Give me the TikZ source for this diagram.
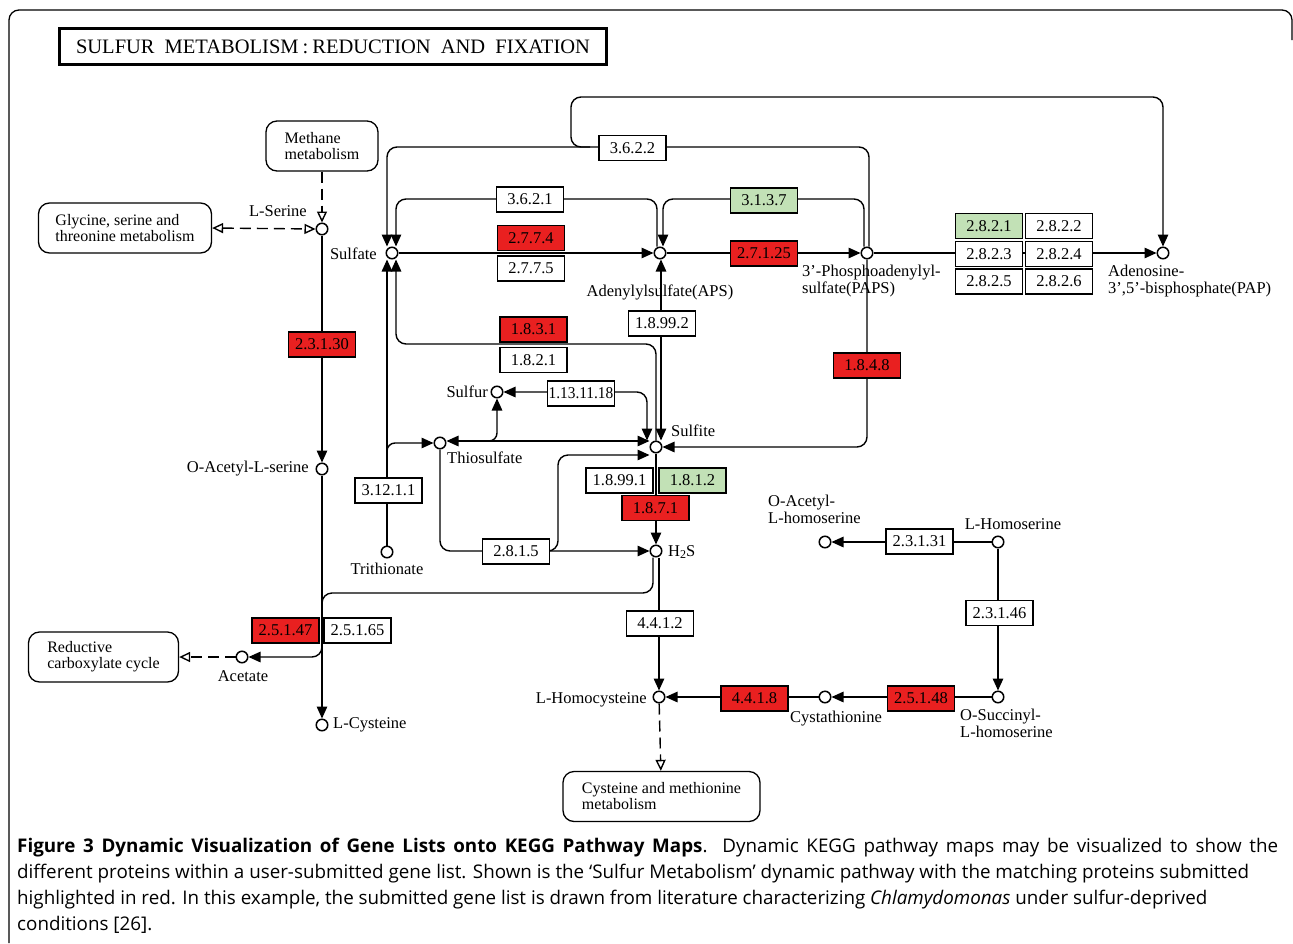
\documentclass[tikz,border=0pt]{standalone}
\usepackage{fontspec}
\setmainfont{Liberation Serif}
\newfontfamily\capfont{Open Sans}
\usetikzlibrary{arrows.meta,calc}
\pgfdeclarelayer{bg}
\pgfsetlayers{bg,main}
\definecolor{keggred}{RGB}{233,32,32}
\definecolor{kegggreen}{RGB}{194,225,182}
\begin{document}
\begin{tikzpicture}[x=1pt,y=-1pt,
  every node/.style={font=\fontsize{16.5}{17}\selectfont},
  cpd/.style={circle,draw,fill=white,line width=1.5pt,minimum size=11.5pt,inner sep=0pt},
  enz/.style={draw,fill=white,line width=1.3pt,minimum width=67pt,minimum height=25pt,inner sep=0pt},
  enzred/.style={enz,fill=keggred},
  enzgreen/.style={enz,fill=kegggreen},
  mapbox/.style={draw,rounded corners=11pt,line width=1.3pt,fill=white,align=left,font=\fontsize{16}{16}\selectfont,inner sep=0pt},
  lbl/.style={inner sep=0pt},
  conn/.style={line width=1.4pt},
  dconn/.style={line width=1.4pt,dash pattern=on 11pt off 6pt},
  opentip/.style={-{Triangle[open,length=11pt,width=10pt]}},
  opentips/.style={{Triangle[open,length=11pt,width=10pt]}-{Triangle[open,length=11pt,width=10pt]}},
  >={Triangle[length=12pt,width=10.5pt]},
]
\useasboundingbox (0,0) rectangle (1293,943);

% outer frame and title
\draw[line width=1.3pt,rounded corners=10pt] (9,943) -- (9,10) -- (1292,10) -- (1292,40);
\node[draw,line width=3pt,minimum width=547pt,minimum height=36pt,inner sep=0pt,font=\fontsize{20.5}{22}\selectfont] (title) at (333,46.5) {SULFUR\hspace{5pt} METABOLISM\hspace{4pt}:\hspace{4pt}REDUCTION\hspace{5pt} AND\hspace{5pt} FIXATION};

% compounds
\node[cpd] (serine) at (322,229) {};
\node[cpd] (sulfate) at (392,253) {};
\node[cpd] (aps) at (660,253) {};
\node[cpd] (paps) at (867,253) {};
\node[cpd] (pap) at (1163,253) {};
\node[cpd] (sulfur) at (497,392) {};
\node[cpd] (thio) at (440,443) {};
\node[cpd] (sulfite) at (656,447) {};
\node[cpd] (oas) at (322,469) {};
\node[cpd] (trith) at (387,552) {};
\node[cpd] (h2s) at (656,551) {};
\node[cpd] (acetate) at (242,657) {};
\node[cpd] (cys) at (322,725) {};
\node[cpd] (oah) at (825,542) {};
\node[cpd] (homoser) at (998,542) {};
\node[cpd] (hcys) at (659,697) {};
\node[cpd] (cysta) at (825,697) {};
\node[cpd] (osh) at (998,697) {};

% compound labels
\node[lbl,anchor=east] (lserine) at (307,211) {L-Serine};
\node[lbl,anchor=east] (lsulfate) at (377,254) {Sulfate};
\node[lbl] (laps) at (660,292) {Adenylylsulfate(APS)};
\node[lbl,anchor=north west,align=left] (lpaps) at (802,265) {3'-Phosphoadenylyl-\\sulfate(PAPS)};
\node[lbl,anchor=north west,align=left] (lpap) at (1108,265) {Adenosine-\\3',5'-bisphosphate(PAP)};
\node[lbl,anchor=east] (lsulfur) at (488,392) {Sulfur};
\node[lbl,anchor=west] (lsulfite) at (671,431) {Sulfite};
\node[lbl,anchor=west] (lthio) at (447,458) {Thiosulfate};
\node[lbl,anchor=east] (loas) at (309,469) {O-Acetyl-L-serine};
\node[lbl] (ltrith) at (387,569) {Trithionate};
\node[lbl,anchor=west] (lh2s) at (668,552) {H\raisebox{-1.5pt}{\fontsize{12}{12}\selectfont 2}S};
\node[lbl] (lacetate) at (243,676) {Acetate};
\node[lbl,anchor=west] (lcys) at (333,725) {L-Cysteine};
\node[lbl,anchor=north west,align=left] (loah) at (768,495) {O-Acetyl-\\L-homoserine};
\node[lbl] (lhomoser) at (1013,524) {L-Homoserine};
\node[lbl,anchor=east] (lhcys) at (647,700) {L-Homocysteine};
\node[lbl] (lcysta) at (836,719) {Cystathionine};
\node[lbl,anchor=north west,align=left] (losh) at (960,709) {O-Succinyl-\\L-homoserine};

% enzymes
\node[enz] (e3622) at (632.5,148) {3.6.2.2};
\node[enz] (e3621) at (530,199.5) {3.6.2.1};
\node[enzgreen] (e3137) at (764,200.5) {3.1.3.7};
\node[enzred] (e2774) at (531,238) {2.7.7.4};
\node[enz] (e2775) at (531,268.5) {2.7.7.5};
\node[enzred] (e27125) at (764,253.5) {2.7.1.25};
\node[enzgreen] (e2821) at (989,226) {2.8.2.1};
\node[enz] (e2822) at (1059,226) {2.8.2.2};
\node[enz] (e2823) at (989,254) {2.8.2.3};
\node[enz] (e2824) at (1059,254) {2.8.2.4};
\node[enz] (e2825) at (989,281.5) {2.8.2.5};
\node[enz] (e2826) at (1059,281.5) {2.8.2.6};
\node[enz] (e18992) at (662,323.5) {1.8.99.2};
\node[enzred] (e1831) at (533.5,329.5) {1.8.3.1};
\node[enz] (e1821) at (533.5,360) {1.8.2.1};
\node[enzred] (e1848) at (867,365.5) {1.8.4.8};
\node[enzred] (e231130) at (322,344.5) {2.3.1.30};
\node[enz] (e1131118) at (581,393.5) {\scalebox{0.93}[1]{1.13.11.18}};
\node[enz] (e31211) at (388.5,490.5) {3.12.1.1};
\node[enz] (e18991) at (619.5,480.5) {1.8.99.1};
\node[enzgreen] (e1812) at (692.5,480.5) {1.8.1.2};
\node[enzred] (e1871) at (655.5,508) {1.8.7.1};
\node[enz] (e2815) at (516,551.5) {2.8.1.5};
\node[enzred] (e25147) at (285.5,630.5) {2.5.1.47};
\node[enz] (e25165) at (357.5,630.5) {2.5.1.65};
\node[enz] (e4412) at (660,623.5) {4.4.1.2};
\node[enz] (e23131) at (919.5,541.5) {2.3.1.31};
\node[enz] (e23146) at (999.5,613) {2.3.1.46};
\node[enzred] (e25148) at (921,698.5) {2.5.1.48};
\node[enzred] (e4418) at (754.5,698.5) {4.4.1.8};

% pathway maps
\node[mapbox,minimum width=112pt,minimum height=50pt] (methane) at (322,146) {Methane\\metabolism};
\node[mapbox,minimum width=173pt,minimum height=50pt] (glycine) at (125,228) {Glycine, serine and\\threonine metabolism};
\node[mapbox,minimum width=150pt,minimum height=50pt] (reductive) at (103.5,657) {Reductive\\carboxylate cycle};
\node[mapbox,minimum width=197pt,minimum height=50pt] (cysmet) at (661.5,796.5) {Cysteine and methionine\\metabolism};

% caption
\node[anchor=north west,align=left,inner sep=0pt,font=\capfont\fontsize{18.8}{26}\selectfont] (caption) at (17,838)
{\makebox[1261pt][s]{\textbf{Figure 3 Dynamic Visualization of Gene Lists onto KEGG Pathway Maps}. Dynamic KEGG pathway maps may be visualized to show the}\\
different proteins within a user-submitted gene list. Shown is the ‘Sulfur Metabolism’ dynamic pathway with the matching proteins submitted\\
highlighted in red. In this example, the submitted gene list is drawn from literature characterizing \textit{Chlamydomonas} under sulfur-deprived\\
conditions [26].};

% connectors
\begin{pgfonlayer}{bg}
\fill[white] (0,0) rectangle (1293,943);
\draw[dconn,opentip] (methane.south) -- (serine.north);
\draw[dconn,opentips] (glycine.east) -- (serine.west);
\draw[conn,->] (serine) -- (oas);
\draw[conn,->] (oas) -- (cys);
\draw[conn,rounded corners=10pt] ($(h2s.south)+(-3,0)$) |- (322,593) -- (322,615);
\draw[conn,rounded corners=10pt,->] (322,640) |- (acetate);
\draw[dconn,opentip] (acetate) -- (reductive);
\draw[conn,->] (sulfate) -- (aps);
\draw[conn,rounded corners=10pt,->] ($(aps.north)+(-3,0)$) |- (396,199) -- ($(sulfate.north)+(4,0)$);
\draw[conn,rounded corners=10pt,->] ($(paps.north)+(2,0)$) |- (387,147) -- ($(sulfate.north)+(-5,0)$);
\draw[conn,rounded corners=10pt,->] (590,147) -| (571,97) -| (pap.north);
\draw[conn,rounded corners=10pt,->] ($(paps.north)+(-3,0)$) |- (663,199) -- ($(aps.north)+(3,0)$);
\draw[conn,->] (aps) -- (paps);
\draw[conn,->] (paps) -- (pap);
\draw[conn,<->] ($(aps.south)+(1,0)$) -- ($(sulfite.north)+(5,0)$);
\draw[conn,rounded corners=10pt,->] (sulfite.north) |- (396,344) -- ($(sulfate.south)+(4,0)$);
\draw[conn,->] (trith) -- ($(sulfate.south)+(-5,0)$);
\draw[conn,rounded corners=8pt,->] (387,458) |- (thio);
\draw[conn,<->] ($(thio.east)+(0,-2)$) -- ($(sulfite.west)+(0,-6)$);
\draw[conn,rounded corners=8pt,->] (485,441) -| (sulfur);
\draw[conn,rounded corners=10pt,<->] (sulfur) -| ($(sulfite.north)+(-9,0)$);
\draw[conn,rounded corners=10pt,->] (thio) |- (h2s);
\draw[conn,rounded corners=10pt,->] (545,551) -| (558,455) -- ($(sulfite.west)+(0,8)$);
\draw[conn,rounded corners=10pt,->] (paps) |- (sulfite);
\draw[conn,->] (sulfite) -- (h2s);
\draw[conn,->] ($(h2s.south)+(3,0)$) -- (hcys);
\draw[conn,->] (homoser) -- (oah);
\draw[conn,->] (homoser) -- (osh);
\draw[conn,->] (osh) -- (cysta);
\draw[conn,->] (cysta) -- (hcys);
\draw[dconn,opentip] (hcys) -- (cysmet);
\end{pgfonlayer}
\end{tikzpicture}
\end{document}
